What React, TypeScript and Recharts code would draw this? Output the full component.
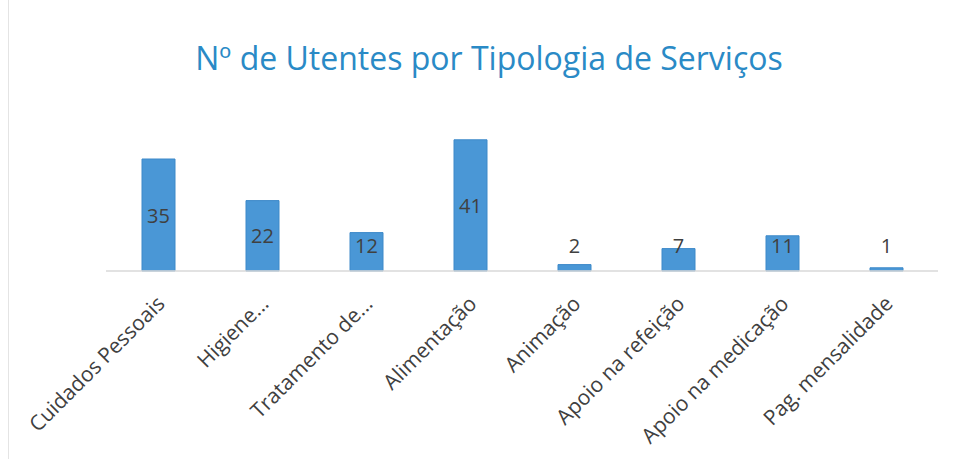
import React from 'react';
import { BarChart, Bar, XAxis, YAxis, LabelList } from 'recharts';

// services and number of users per service
const services = [
  'Cuidados Pessoais',
  'Higiene...',
  'Tratamento de...',
  'Alimentação',
  'Animação',
  'Apoio na refeição',
  'Apoio na medicação',
  'Pag. mensalidade',
];
const utentes = [35, 22, 12, 41, 2, 7, 11, 1];

const data = services.map((name, i) => ({ name, utentes: utentes[i] }));

const FONT = '"Open Sans", sans-serif';

const ValueLabel = (props: any) => {
  const { x, y, width, height, value } = props;
  const base = y + height;
  const cy = Math.min(y + height / 2, base - 26);
  return (
    <text
      x={x + width / 2}
      y={cy}
      textAnchor="middle"
      dominantBaseline="central"
      fill="#404040"
      fontFamily={FONT}
      fontSize={20}
    >
      {value}
    </text>
  );
};

const AngledTick = (props: any) => {
  const { x, y, payload } = props;
  return (
    <g transform={`translate(${x + 8},${y + 26})`}>
      <text
        x={0}
        y={0}
        textAnchor="end"
        transform="rotate(-45)"
        fill="#404040"
        fontFamily={FONT}
        fontSize={21}
      >
        {payload.value}
      </text>
    </g>
  );
};

export default function App() {
  return (
    <div
      style={{
        position: 'absolute',
        left: 0,
        top: 0,
        width: 958,
        height: 459,
        background: '#fff',
      }}
    >
      <div
        style={{
          position: 'absolute',
          left: 8,
          top: 0,
          width: 1,
          height: 459,
          background: '#e4e4e4',
        }}
      />
      <div
        style={{
          position: 'absolute',
          left: 0,
          top: 36,
          width: 978,
          textAlign: 'center',
          fontFamily: FONT,
          fontSize: 32,
          color: '#2a8ac6',
          lineHeight: '44px',
        }}
      >
        Nº de Utentes por Tipologia de Serviços
      </div>
      <BarChart
        width={958}
        height={459}
        data={data}
        margin={{ top: 127, right: 20, left: 106, bottom: 0 }}
        barCategoryGap={0}
      >
        <XAxis
          dataKey="name"
          interval={0}
          height={188}
          tickLine={false}
          axisLine={{ stroke: '#d9d9d9', strokeWidth: 1.5 }}
          tick={<AngledTick />}
        />
        <YAxis hide domain={[0, 45]} />
        <Bar
          dataKey="utentes"
          fill="#4a97d6"
          stroke="#3d89c9"
          strokeWidth={1}
          barSize={33}
          isAnimationActive={false}
        >
          <LabelList dataKey="utentes" content={<ValueLabel />} />
        </Bar>
      </BarChart>
    </div>
  );
}
